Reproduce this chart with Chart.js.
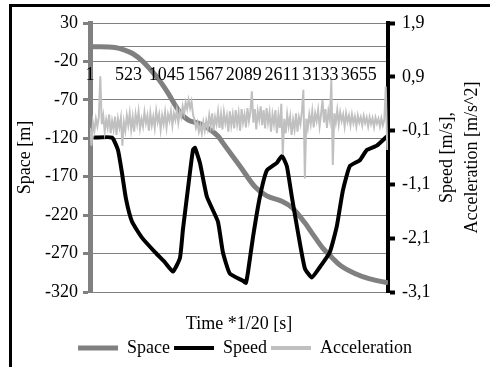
<!DOCTYPE html>
<html>
<head>
<meta charset="utf-8">
<script src="https://cdn.jsdelivr.net/npm/chart.js@4.4.0/dist/chart.umd.min.js"></script>
<style>
  html, body { margin: 0; padding: 0; background: #fff; }
  #frame { position: absolute; left: 9px; top: 4px; right: 0; bottom: 0;
           border-top: 3px solid #000; border-left: 3px solid #000; }
  #chart { position: absolute; left: 0; top: 0; }
</style>
</head>
<body>
<div id="frame"></div>
<canvas id="chart" width="490" height="367"></canvas>
<script>
// x axis labels (sample index, 1/20 s)
const timeTicks = [1, 523, 1045, 1567, 2089, 2611, 3133, 3655];
const timeMax = 4051;

// Space [m] (primary axis)
const spaceTime = [1, 137, 341, 463, 585, 707, 816, 924, 1047, 1223, 1332, 1495, 1590, 1739, 1807,
  2038, 2242, 2405, 2609, 2744, 2921, 3016, 3165, 3287, 3396, 3600, 3803, 4051];
const spaceValues = [-1, -1, -2, -5, -10, -19, -30, -42, -59, -86, -96, -101, -106, -117, -126,
  -156, -183, -195, -202, -210, -230, -243, -263, -275, -285, -296, -303, -308];

// Speed [m/s] (secondary axis)
const speedTime = [50, 300, 381, 436, 490, 571, 707, 884, 1020, 1128, 1223, 1264, 1332, 1400, 1427,
  1495, 1590, 1739, 1807, 1902, 2079, 2119, 2147, 2215, 2310, 2405, 2541, 2609, 2676, 2744, 2826,
  2921, 3016, 3124, 3260, 3355, 3437, 3532, 3668, 3763, 3899, 4051];
const speedValues = [-0.23, -0.23, -0.46, -0.89, -1.37, -1.79, -2.09, -2.36, -2.55, -2.72, -2.47, -1.94,
  -1.18, -0.46, -0.42, -0.70, -1.33, -1.79, -2.36, -2.76, -2.89, -2.93, -2.74, -2.09, -1.33, -0.84,
  -0.70, -0.57, -0.76, -1.33, -1.98, -2.66, -2.83, -2.64, -2.36, -1.88, -1.22, -0.76, -0.65, -0.46,
  -0.38, -0.19];

// Acceleration [m/s^2] (secondary axis), one reading every accelStep samples
const accelStep = 20;
const accelValues = [
  -0.05, -0.38, 0.05, -0.10, 0.12, -0.02, 0.15, 0.91, 0.02, 0.18,
  -0.12, 0.10, -0.05, 0.20, -0.15, 0.08, -0.08, 0.16, -0.18, 0.12,
  -0.04, 0.14, -0.38, 0.06, -0.10, 0.18, 0.00, 0.22, -0.08, 0.15,
  -0.12, 0.20, 0.02, 0.25, -0.06, 0.12, -0.02, 0.24, 0.04, 0.18,
  -0.10, 0.22, 0.00, 0.16, -0.05, 0.26, 0.06, 0.20, -0.08, 0.18,
  0.02, 0.24, -0.04, 0.20, 0.08, 0.26, 0.00, 0.22, 0.10, 0.28,
  0.05, 0.25, 0.15, 0.35, 0.22, 0.42, 0.30, 0.47, 0.32, 0.44,
  0.20, 0.10, -0.05, 0.05, -0.12, 0.00, -0.15, 0.06, -0.10, 0.08,
  -0.06, 0.18, -0.02, 0.22, -0.10, 0.15, 0.02, 0.25, -0.05, 0.20,
  -0.08, 0.24, 0.04, 0.18, -0.12, 0.26, 0.00, 0.20, -0.06, 0.28,
  0.02, 0.22, -0.10, 0.30, 0.05, 0.20, -0.04, 0.32, 0.08, 0.25,
  0.63, 0.05, 0.30, -0.08, 0.26, 0.10, 0.35, 0.00, 0.28, -0.06,
  0.32, 0.05, 0.24, -0.12, 0.20, 0.02, 0.28, -0.15, 0.18, -0.05,
  0.40, -0.55, 0.12, -0.15, 0.20, -0.02, 0.16, -0.18, 0.10, -0.08,
  0.22, -0.12, 0.15, 0.02, 0.25, 0.66, -0.99, 0.12, -0.05, 0.20,
  0.02, 0.26, -0.04, 0.22, 0.08, 0.28, -0.02, 0.20, 0.47, 0.05,
  0.30, -0.05, 0.26, 0.10, 0.85, -0.74, 0.22, 0.05, 0.28, 0.02,
  0.24, 0.08, 0.20, -0.02, 0.22, 0.06, 0.18, 0.00, 0.20, 0.04,
  0.16, -0.02, 0.18, 0.05, 0.15, 0.00, 0.17, 0.04, 0.14, -0.02,
  0.15, 0.02, 0.13, -0.03, 0.14, 0.03, 0.12, -0.02, 0.13, 0.00,
  0.10, 0.72, -0.46
];

const spaceTicks = [30, -20, -70, -120, -170, -220, -270, -320];
const speedTicks = [1.9, 0.9, -0.1, -1.1, -2.1, -3.1];
const legendWidths = [5, 4, 4];
const rightTitleLines = ['Speed [m/s],', 'Acceleration [m/s^2]'];

Chart.defaults.font.family = "'Liberation Serif', 'Times New Roman', serif";
Chart.defaults.font.size = 18;
Chart.defaults.color = '#000';

const spaceData = spaceTime.map((t, i) => ({ x: t, y: spaceValues[i] }));
const speedData = speedTime.map((t, i) => ({ x: t, y: speedValues[i] }));
const accelData = accelValues.map((v, k) => ({ x: 1 + k * accelStep, y: v }));

const rightTitle = {
  id: 'rightTitle',
  afterDraw(chart) {
    const ctx = chart.ctx;
    const area = chart.chartArea;
    const cy = (area.top + area.bottom) / 2;
    ctx.save();
    ctx.font = "18px 'Liberation Serif', serif";
    ctx.fillStyle = '#000';
    ctx.textAlign = 'center';
    ctx.textBaseline = 'middle';
    rightTitleLines.forEach((t, i) => {
      ctx.save();
      ctx.translate(area.right + 59 + i * 25, cy);
      ctx.rotate(-Math.PI / 2);
      ctx.fillText(t, 0, 0);
      ctx.restore();
    });
    ctx.restore();
  }
};

new Chart(document.getElementById('chart'), {
  type: 'line',
  data: {
    datasets: [
      { label: 'Space', data: spaceData, yAxisID: 'y', borderColor: '#808080', backgroundColor: '#808080',
        borderWidth: 5, pointRadius: 0, cubicInterpolationMode: 'monotone', order: 3 },
      { label: 'Speed', data: speedData, yAxisID: 'y1', borderColor: '#000', backgroundColor: '#000',
        borderWidth: 4, pointRadius: 0, tension: 0.15, order: 2 },
      { label: 'Acceleration', data: accelData, yAxisID: 'y1', borderColor: '#c0c0c0', backgroundColor: '#c0c0c0',
        borderWidth: 2, pointRadius: 0, tension: 0, order: 1 }
    ]
  },
  options: {
    responsive: false,
    animation: false,
    layout: { padding: { top: 23, left: 0, right: 0, bottom: 0 } },
    scales: {
      x: {
        type: 'linear',
        min: 1,
        max: timeMax,
        position: { y: 0 },
        afterBuildTicks: s => { s.ticks = timeTicks.map(v => ({ value: v })); },
        grid: { display: false, drawTicks: false },
        border: { display: true, color: '#808080', width: 1 },
        ticks: { z: 1, autoSkip: false, maxRotation: 0, padding: 18, callback: v => String(v) }
      },
      x2: {
        type: 'linear',
        position: 'bottom',
        afterFit: s => { s.height = 43; },
        grid: { display: false },
        border: { display: false },
        ticks: { display: false },
        title: { display: true, text: 'Time *1/20 [s]', padding: { top: 0, bottom: 0 } }
      },
      y: {
        position: 'left',
        min: -320,
        max: 30,
        afterBuildTicks: s => { s.ticks = spaceTicks.map(v => ({ value: v })); },
        afterFit: s => { s.width = 90; },
        grid: { color: '#808080', lineWidth: 1, tickLength: 7, tickWidth: 3, tickColor: '#808080' },
        border: { color: '#808080', width: 5 },
        ticks: { padding: 5, callback: v => String(v) },
        title: { display: true, text: 'Space [m]', padding: { top: 14, bottom: 0 } }
      },
      y1: {
        position: 'right',
        min: -3.1,
        max: 1.9,
        afterBuildTicks: s => { s.ticks = speedTicks.map(v => ({ value: v })); },
        afterFit: s => { s.width = 102; },
        grid: { drawOnChartArea: false, tickLength: 7, tickWidth: 4, tickColor: '#000' },
        border: { color: '#000', width: 4 },
        ticks: { padding: 7, callback: v => v.toFixed(1).replace('.', ',') }
      }
    },
    plugins: {
      tooltip: { enabled: false },
      legend: {
        position: 'bottom',
        labels: {
          usePointStyle: true,
          pointStyle: 'line',
          pointStyleWidth: 40,
          boxWidth: 40,
          padding: 4,
          sort: (a, b) => a.datasetIndex - b.datasetIndex,
          generateLabels: chart => Chart.defaults.plugins.legend.labels.generateLabels(chart).map(l => {
            l.lineWidth = legendWidths[l.datasetIndex];
            return l;
          })
        }
      }
    }
  },
  plugins: [rightTitle]
});
</script>
</body>
</html>
